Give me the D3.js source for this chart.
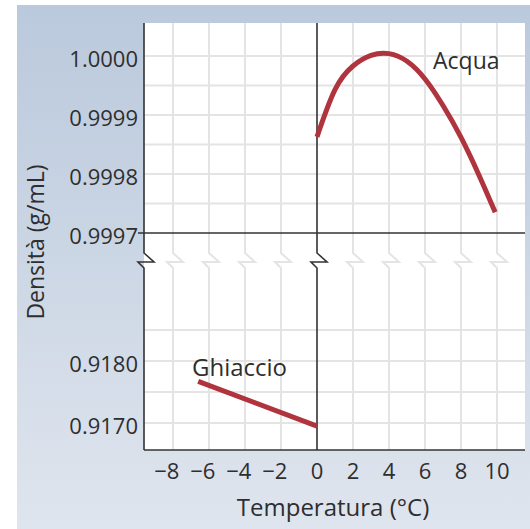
<!DOCTYPE html>
<html>
<head>
<meta charset="utf-8">
<script src="https://cdn.jsdelivr.net/npm/d3@7"></script>
<style>
  html, body { margin: 0; padding: 0; background: #ffffff; }
  svg { display: block; }
  text { font-family: "Open Sans", "Noto Sans", sans-serif; fill: #2e2e2e; }
</style>
</head>
<body>
<svg id="chart" width="530" height="529"></svg>
<script>
// ---- data ----
const waterTemps = [0, 1, 2, 3, 4, 5, 6, 7, 8, 9, 9.9];
const waterDensity = [0.999863, 0.999943, 0.999983, 1.000001, 1.000004, 0.999991, 0.999961, 0.999916, 0.999862, 0.999798, 0.999735];
const iceTemps = [-6.6, 0];
const iceDensity = [0.91767, 0.91695];
const xTicks = [-8, -6, -4, -2, 0, 2, 4, 6, 8, 10];
const xGrid = [-8, -6, -4, -2, 2, 4, 6, 8, 10];
const yTopTicks = [0.9997, 0.9998, 0.9999, 1.0000];
const yTopGrid = [0.99975, 0.9998, 0.99985, 0.9999, 0.99995, 1.0000];
const yBotTicks = [0.9170, 0.9180];
const yBotGrid = [0.9170, 0.9175, 0.9180, 0.9185];
const seriesLabels = ["Acqua", "Ghiaccio"];
const xTitle = "Temperatura (°C)";
const yTitle = "Densità (g/mL)";

// ---- layout ----
const svg = d3.select("#chart");
const plot = { left: 144, right: 525, top: 23, bottom: 450 };
const brk = { y1: 253, y2: 268 };

const x = d3.scaleLinear().domain([-8, 10]).range([173, 497]);
const yTop = d3.scaleLinear().domain([0.9997, 1.0000]).range([233, 56]);
const yBot = d3.scaleLinear().domain([0.9170, 0.9180]).range([423, 361]);

// background panel
const defs = svg.append("defs");
const grad = defs.append("linearGradient").attr("id", "bg").attr("x1", 0).attr("y1", 0).attr("x2", 0).attr("y2", 1);
grad.append("stop").attr("offset", "0%").attr("stop-color", "#bac9dc");
grad.append("stop").attr("offset", "100%").attr("stop-color", "#dfe5ee");
svg.append("rect").attr("x", 17).attr("y", 5).attr("width", 513).attr("height", 524).attr("fill", "url(#bg)");

// plot area
svg.append("rect").attr("x", plot.left).attr("y", plot.top)
  .attr("width", plot.right - plot.left).attr("height", plot.bottom - plot.top).attr("fill", "#ffffff");

function breakPath(px) {
  return `M${px},${plot.top}L${px},${brk.y1}L${px + 10},${brk.y1 + 9}L${px - 6},${brk.y1 + 9}L${px},${brk.y2}L${px},${plot.bottom}`;
}

const grid = svg.append("g").attr("fill", "none").attr("stroke", "#e4e4e4").attr("stroke-width", 2);
grid.selectAll("path.v").data(xGrid).join("path").attr("d", d => breakPath(x(d)));
grid.selectAll("line.ht").data(yTopGrid).join("line")
  .attr("x1", plot.left).attr("x2", plot.right).attr("y1", d => yTop(d)).attr("y2", d => yTop(d));
grid.selectAll("line.hb").data(yBotGrid).join("line")
  .attr("x1", plot.left).attr("x2", plot.right).attr("y1", d => yBot(d)).attr("y2", d => yBot(d));

// dark axes
const axes = svg.append("g").attr("fill", "none").attr("stroke", "#333333").attr("stroke-width", 1.6);
axes.append("path").attr("d", breakPath(plot.left));
axes.append("path").attr("d", breakPath(x(0)));
axes.append("line").attr("x1", plot.left - 6).attr("x2", plot.right).attr("y1", yTop(0.9997)).attr("y2", yTop(0.9997));
axes.append("line").attr("x1", plot.left).attr("x2", plot.right).attr("y1", plot.bottom).attr("y2", plot.bottom);

// curves
const red = "#b0343e";
const water = waterTemps.map((t, i) => [t, waterDensity[i]]);
const ice = iceTemps.map((t, i) => [t, iceDensity[i]]);
svg.append("path").datum(water).attr("fill", "none").attr("stroke", red).attr("stroke-width", 5)
  .attr("d", d3.line().x(d => x(d[0])).y(d => yTop(d[1])).curve(d3.curveNatural));
svg.append("path").datum(ice).attr("fill", "none").attr("stroke", red).attr("stroke-width", 5)
  .attr("d", d3.line().x(d => x(d[0])).y(d => yBot(d[1])));

// y tick labels
const fs = 22;
const yLab = svg.append("g").attr("font-size", fs).attr("text-anchor", "end");
yLab.selectAll("text.t").data(yTopTicks).join("text")
  .attr("x", 138).attr("y", d => yTop(d) + 3.5).attr("dy", "0.35em").text(d => d.toFixed(4));
yLab.selectAll("text.b").data(yBotTicks).join("text")
  .attr("x", 138).attr("y", d => yBot(d) + 3.5).attr("dy", "0.35em").text(d => d.toFixed(4));

// x tick labels (digits centred on the tick, minus sign hanging left)
const xLab = svg.append("g").attr("font-size", fs).attr("text-anchor", "end");
const probe = svg.append("text").attr("font-size", fs).attr("visibility", "hidden");
xTicks.forEach(t => {
  const digits = String(Math.abs(t));
  probe.text(digits);
  const w = probe.node().getComputedTextLength();
  xLab.append("text").attr("x", x(t) + w / 2).attr("y", 479)
    .text((t < 0 ? "\u2212" : "") + digits);
});
probe.remove();

// axis titles
svg.append("text").attr("font-size", 24).attr("text-anchor", "middle")
  .attr("x", 333).attr("y", 516).text(xTitle);
svg.append("text").attr("font-size", 23).attr("text-anchor", "middle")
  .attr("transform", "translate(44,242) rotate(-90)").text(yTitle);

// series labels
svg.append("text").attr("font-size", 23).attr("x", 433).attr("y", 69).text(seriesLabels[0]);
svg.append("text").attr("font-size", 24).attr("x", 192).attr("y", 376).text(seriesLabels[1]);
</script>
</body>
</html>
